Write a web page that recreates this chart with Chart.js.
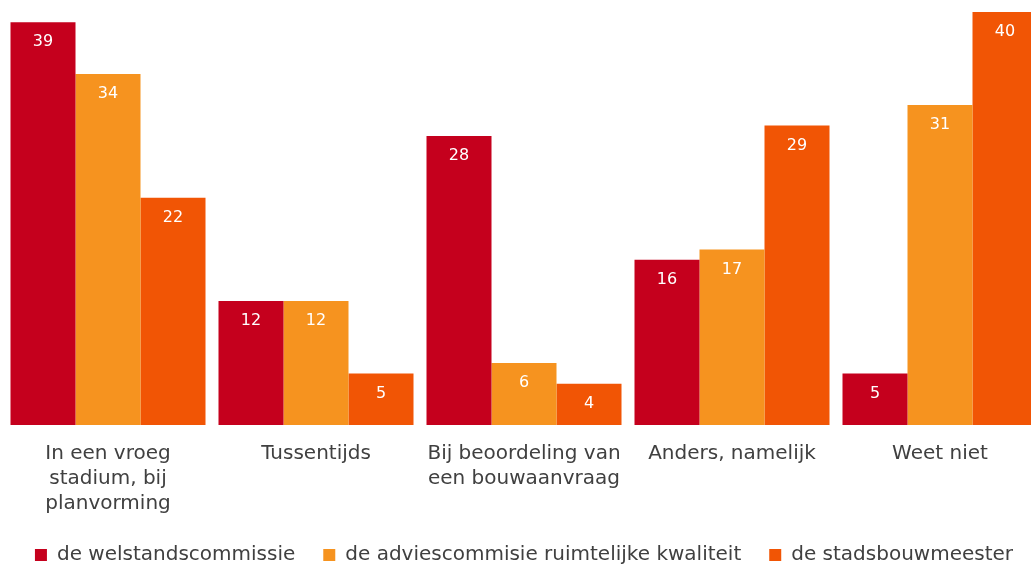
<!DOCTYPE html>
<html>
<head>
<meta charset="utf-8">
<script src="https://cdn.jsdelivr.net/npm/chart.js@4/dist/chart.umd.min.js"></script>
<style>
html,body{margin:0;padding:0;background:#fff;overflow:hidden}
#wrap{position:relative;width:1044px;height:566px}
</style>
</head>
<body>
<div id="wrap"><canvas id="chart"></canvas></div>
<script>
var categories=[["In een vroeg","stadium, bij","planvorming"],"Tussentijds",["Bij beoordeling van","een bouwaanvraag"],"Anders, namelijk","Weet niet"];
var welstand=[39,12,28,16,5];
var adviescommissie=[34,12,6,17,31];
var stadsbouwmeester=[22,5,4,29,40];
var seriesNames=["de welstandscommissie","de adviescommisie ruimtelijke kwaliteit","de stadsbouwmeester"];
var colors=["#C5001D","#F6931F","#F15505"];
var FONT="'DejaVu Sans', Verdana, sans-serif";

// draw the values inside the top of each bar
var valueLabels={
  id:"valueLabels",
  afterDatasetsDraw:function(chart){
    var ctx=chart.ctx;
    ctx.save();
    ctx.font="16px "+FONT;
    ctx.fillStyle="#fff";
    ctx.textAlign="center";
    ctx.textBaseline="middle";
    chart.data.datasets.forEach(function(ds,i){
      chart.getDatasetMeta(i).data.forEach(function(bar,j){
        ctx.fillText(ds.data[j],bar.x,bar.y+20);
      });
    });
    ctx.restore();
  }
};

// keep the legend block compact so the bars get the room
var legendHeight={
  id:"legendHeight",
  beforeInit:function(chart){
    var fit=chart.legend.fit;
    chart.legend.fit=function(){
      fit.call(this);
      this.height=49;
    };
  }
};

new Chart(document.getElementById("chart"),{
  type:"bar",
  data:{
    labels:categories,
    datasets:[
      {label:seriesNames[0],data:welstand,backgroundColor:colors[0]},
      {label:seriesNames[1],data:adviescommissie,backgroundColor:colors[1]},
      {label:seriesNames[2],data:stadsbouwmeester,backgroundColor:colors[2]}
    ]
  },
  options:{
    responsive:true,maintainAspectRatio:false,animation:false,
    categoryPercentage:0.9375,barPercentage:1,
    layout:{padding:{left:4,right:0,top:12,bottom:0}},
    plugins:{
      tooltip:{enabled:false},
      legend:{
        position:"bottom",
        labels:{
          color:"#404040",
          font:{family:FONT,size:20},
          usePointStyle:true,pointStyle:"rect",boxWidth:12,boxHeight:12,padding:28
        }
      }
    },
    scales:{
      x:{
        grid:{display:false},border:{display:false},
        afterFit:function(s){s.height=92},
        ticks:{color:"#404040",padding:8,maxRotation:0,font:{family:FONT,size:20,lineHeight:1.25}}
      },
      y:{display:false,min:0,max:40}
    }
  },
  plugins:[valueLabels,legendHeight]
});
</script>
</body>
</html>
